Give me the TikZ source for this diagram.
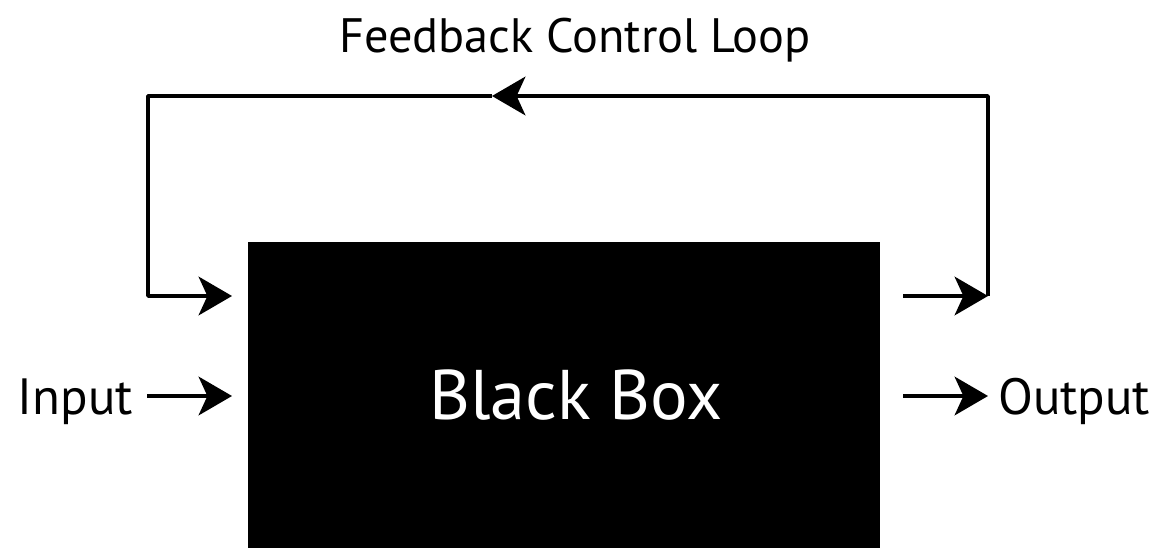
\documentclass[tikz,border=0pt]{standalone}
\usepackage{fontspec}
\setmainfont{PT Sans}
\usetikzlibrary{arrows.meta, positioning}

\begin{document}
\begin{tikzpicture}[x=0.02cm, y=-0.02cm, line width=2pt,
		every node/.style={inner sep=0pt},
		tip/.style={-{Stealth[length=19pt, width=22pt, inset=5pt]}}]
		\useasboundingbox (0,0) rectangle (1160,548);
		% the box and the labels
		\node[fill=black, minimum width=12.64cm, minimum height=6.12cm] (box) at (564,395) {};
		\node[text=white, font=\fontsize{40}{44}\selectfont] (boxlabel) at ([xshift=0.24cm]box.center) {Black Box};
		\node[anchor=base, font=\fontsize{27.5}{30}\selectfont] (title) at (575,52) {Feedback Control Loop};
		\node[anchor=base west, font=\fontsize{29}{32}\selectfont] (input) at (16,414) {Input};
		\node[anchor=base east, font=\fontsize{29}{32}\selectfont] (output) at (1152,414) {Output};
		% arrow ends
		\coordinate (inA) at (147,396); \coordinate (inB) at (232,396);
		\coordinate (outA) at (903,396); \coordinate (outB) at (988,396);
		\coordinate (fbA) at (903,296); \coordinate (fbR) at (988,296);
		\coordinate (fbTR) at (988,96); \coordinate (fbM) at (492,96);
		\coordinate (fbTL) at (148,96); \coordinate (fbL) at (148,296);
		\coordinate (fbB) at (232,296);
		\draw[tip] (inA) -- (inB);
		\draw[tip] (outA) -- (outB);
		% feedback loop
		\draw[tip] (fbA) -- (fbR);
		\draw[tip, line join=round] (fbR) -- (fbTR) -- (fbM);
		\draw[tip, line join=round] (fbM) -- (fbTL) -- (fbL) -- (fbB);
	\end{tikzpicture}
\end{document}
